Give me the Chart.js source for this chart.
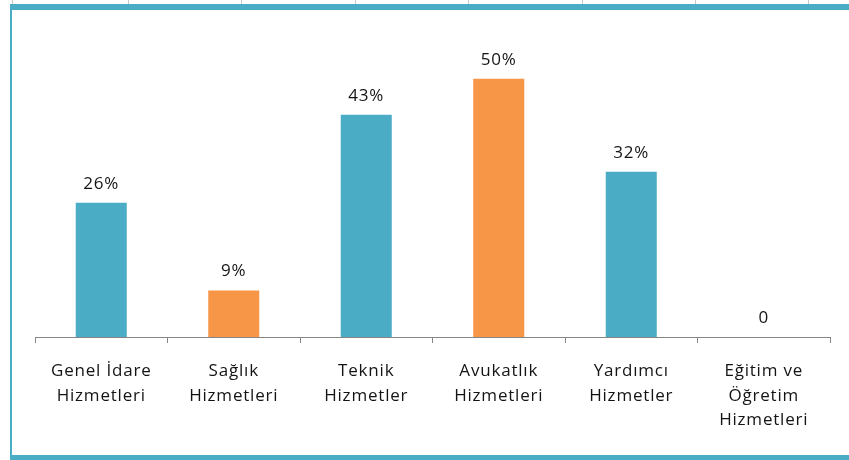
<!DOCTYPE html>
<html>
<head>
<meta charset="utf-8">
<script src="https://cdn.jsdelivr.net/npm/chart.js@4.4.1/dist/chart.umd.min.js"></script>
<style>
html, body { margin: 0; padding: 0; background: #fff; }
#wrap { position: relative; width: 849px; height: 460px; overflow: hidden; }
#frameTop { position: absolute; left: 10px; top: 4px; width: 839px; height: 6px; background: #4bacc6; }
#frameLeft { position: absolute; left: 10px; top: 4px; width: 2px; height: 456px; background: #4bacc6; }
#frameBottom { position: absolute; left: 10px; top: 455px; width: 839px; height: 5px; background: #4bacc6; }
.gl { position: absolute; top: 0; width: 1px; height: 4px; background: #c8c8c8; }
canvas { position: absolute; left: 0; top: 0; }
</style>
</head>
<body>
<div id="wrap">
  <canvas id="myChart" width="849" height="460"></canvas>
  <div id="frameTop"></div>
  <div id="frameLeft"></div>
  <div id="frameBottom"></div>
</div>
<script>
// kategori ve değerler
var categories = [
	['Genel İdare', 'Hizmetleri'],
	['Sağlık', 'Hizmetleri'],
	['Teknik', 'Hizmetler'],
	['Avukatlık', 'Hizmetleri'],
	['Yardımcı', 'Hizmetler'],
	['Eğitim ve', 'Öğretim', 'Hizmetleri']
];
var values = [26, 9, 43, 50, 32, 0];
var valueLabels = ['26%', '9%', '43%', '50%', '32%', '0'];
var barColors = ['#4bacc6', '#f79646', '#4bacc6', '#f79646', '#4bacc6', '#f79646'];

// üstteki tablo çizgileri
var wrap = document.getElementById('wrap');
[12, 128, 241, 355, 468, 582, 695, 808].forEach(function(x) {
	var d = document.createElement('div');
	d.className = 'gl';
	d.style.left = x + 'px';
	wrap.appendChild(d);
});

var fontFamily = '"Open Sans", "Noto Sans", sans-serif';
var textColor = '#141414';

// harf aralığı (Calibri görünümüne yaklaşmak için)
var spacingPlugin = {
	id: 'spacing',
	beforeDraw: function(chart) {
		chart.ctx.letterSpacing = '0.8px';
	}
};

// bar üstü etiketler
var valueLabelPlugin = {
	id: 'valueLabels',
	afterDatasetsDraw: function(chart) {
		var ctx = chart.ctx;
		var meta = chart.getDatasetMeta(0);
		ctx.save();
		ctx.letterSpacing = '0.8px';
		ctx.font = '17px ' + fontFamily;
		ctx.fillStyle = textColor;
		ctx.textAlign = 'center';
		ctx.textBaseline = 'middle';
		meta.data.forEach(function(bar, i) {
			ctx.fillText(valueLabels[i], bar.x, bar.y - 19);
		});
		ctx.restore();
	}
};

const ctx = document.getElementById('myChart');

var myChart = new Chart(ctx, {
	type: 'bar',
	data: {
		labels: categories,
		datasets: [{
			data: values,
			backgroundColor: barColors,
			borderWidth: 0,
			categoryPercentage: 1,
			barPercentage: 0.385
		}]
	},
	options: {
		responsive: false,
		animation: false,
		layout: { padding: { left: 35, right: 19, top: 27, bottom: 0 } },
		plugins: {
			legend: { display: false },
			tooltip: { enabled: false }
		},
		scales: {
			y: {
				display: false,
				min: 0,
				max: 60
			},
			x: {
				offset: true,
				grid: {
					display: true,
					drawOnChartArea: false,
					drawTicks: true,
					tickLength: 6,
					color: '#868686',
					offset: true
				},
				border: { display: true, color: '#868686', width: 1 },
				ticks: {
					color: textColor,
					padding: 16,
					maxRotation: 0,
					autoSkip: false,
					font: { family: fontFamily, size: 17, lineHeight: 1.45 }
				},
				afterFit: function(scale) {
					scale.height = 123;
				}
			}
		}
	},
	plugins: [spacingPlugin, valueLabelPlugin]
});
</script>
</body>
</html>
